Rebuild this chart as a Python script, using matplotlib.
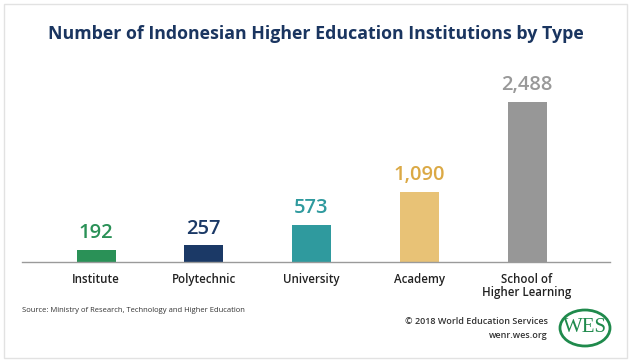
import matplotlib
matplotlib.use("Agg")
import matplotlib.pyplot as plt
from matplotlib.patches import Rectangle, Ellipse

categories = ["Institute", "Polytechnic", "University", "Academy", "School of\nHigher Learning"]
values = [192, 257, 573, 1090, 2488]
value_labels = ["192", "257", "573", "1,090", "2,488"]
bar_colors = ["#2a9157", "#1b3966", "#2f9a9e", "#e8c276", "#979797"]
label_colors = ["#2a9157", "#1b3966", "#2f9a9e", "#dba945", "#999999"]

title = "Number of Indonesian Higher Education Institutions by Type"
source = "Source: Ministry of Research, Technology and Higher Education"

W, H = 632, 362
fig = plt.figure(figsize=(W / 100, H / 100), dpi=100)
fig.patch.set_facecolor("white")

FONT = "Open Sans"

# border
fig.patches.append(Rectangle((4 / W, 4 / H), 623 / W, 354 / H, transform=fig.transFigure,
                             fill=False, edgecolor="#e2e2e2", linewidth=1.0))

ax_left, ax_right = 22, 610
ax_bottom_px, ax_top_px = 262, 62
ax = fig.add_axes([ax_left / W, (H - ax_bottom_px) / H, (ax_right - ax_left) / W,
                   (ax_bottom_px - ax_top_px) / H])
ax.set_facecolor("none")

x = list(range(len(categories)))
spacing = 107.75
off = (96 - ax_left) / spacing
ax.set_xlim(-off, -off + (ax_right - ax_left) / spacing)
ax.set_ylim(0, 200 / (160 / 2488))

ax.bar(x, values, width=39 / spacing, color=bar_colors, zorder=2)
for xi, v, lab, c in zip(x, values, value_labels, label_colors):
    ax.annotate(lab, (xi, v), xytext=(0, 5), textcoords="offset points", ha="center", va="bottom",
                fontsize=14.5, color=c, family=FONT, fontweight="semibold")

for s in ["top", "right", "left"]:
    ax.spines[s].set_visible(False)
ax.spines["bottom"].set_color("#9a9a9a")
ax.spines["bottom"].set_linewidth(1.0)
ax.set_yticks([])
ax.set_xticks(x)
ax.set_xticklabels(categories, fontsize=8.3, family=FONT, color="#222222", linespacing=1.0,
                   fontweight="semibold")
ax.tick_params(axis="x", length=0, pad=8)

fig.text(0.5, 1 - 34 / H, title, ha="center", va="center", fontsize=12.8, fontweight="bold",
         color="#1a3560", family=FONT)
fig.text(22 / W, 1 - 311 / H, source, ha="left", va="center", fontsize=5.5, color="#333333", family=FONT)
fig.text(548 / W, 1 - 322 / H, "© 2018 World Education Services", ha="right", va="center",
         fontsize=6.5, color="#333333", family=FONT, fontweight="semibold")
fig.text(548 / W, 1 - 336 / H, "wenr.wes.org", ha="right", va="center",
         fontsize=6.5, color="#333333", family=FONT, fontweight="semibold")

# WES logo
fig.patches.append(Ellipse((585 / W, 1 - 328 / H), 50 / W, 36 / H, transform=fig.transFigure,
                           fill=False, edgecolor="#1f8a4c", linewidth=2.0))
fig.text(585 / W, 1 - 328 / H, "WES", ha="center", va="center", fontsize=15, color="#1f8a4c",
         family="Liberation Serif")

fig.savefig("out.png", dpi=100, facecolor="white")
